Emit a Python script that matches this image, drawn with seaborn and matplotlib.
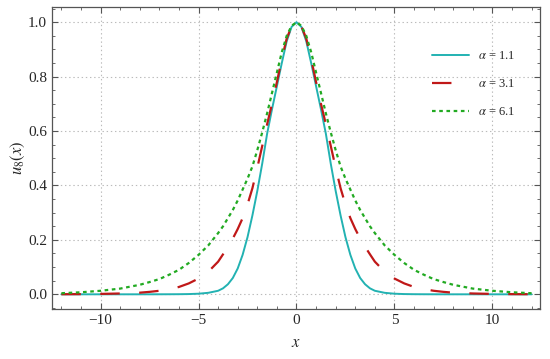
import numpy as np
import pandas as pd
import seaborn as sns
import matplotlib.pyplot as plt
from matplotlib.ticker import MultipleLocator

# values for x >= 0 (curves are symmetric about x = 0)
x_half = [0, 0.25, 0.5, 0.75, 1.0, 1.25, 1.5, 1.75, 2.0, 2.25, 2.5, 2.75, 3.0,
          3.25, 3.5, 3.75, 4.0, 4.5, 5.0, 5.5, 6.0, 6.5, 7.0, 7.5, 8.0,
          9.0, 10.0, 11.0, 12.0]
u_a11 = [1.0, 0.983, 0.93, 0.85, 0.765, 0.68, 0.59, 0.48, 0.38, 0.29, 0.21, 0.145, 0.095,
         0.06, 0.037, 0.022, 0.013, 0.0055, 0.0022, 0.0009, 0.0004, 0.0002, 0.0001, 0.0, 0.0,
         0.0, 0.0, 0.0, 0.0]
u_a31 = [1.0, 0.985, 0.94, 0.865, 0.78, 0.70, 0.625, 0.545, 0.465, 0.39, 0.33, 0.28, 0.24,
         0.205, 0.175, 0.147, 0.12, 0.083, 0.058, 0.04, 0.027, 0.019, 0.013, 0.009, 0.006,
         0.003, 0.0015, 0.0007, 0.0003]
u_a61 = [1.0, 0.987, 0.95, 0.89, 0.815, 0.74, 0.665, 0.595, 0.53, 0.47, 0.425, 0.385, 0.345,
         0.31, 0.28, 0.25, 0.225, 0.18, 0.145, 0.115, 0.09, 0.072, 0.056, 0.045, 0.035,
         0.021, 0.013, 0.0075, 0.004]

labels = [r'$\alpha$ = 1.1', r'$\alpha$ = 3.1', r'$\alpha$ = 6.1']
colors = ['#22b2b2', '#c01818', '#22aa22']
styles = ['-', (0, (14, 14)), (0, (2.6, 2.6))]


def mirror(vals):
    vals = np.asarray(vals, dtype=float)
    return np.concatenate([vals[:0:-1], vals])


sns.set_style('ticks')
plt.rcParams['font.family'] = ['Liberation Serif', 'DejaVu Serif']
plt.rcParams['mathtext.fontset'] = 'stix'
plt.rcParams['lines.scale_dashes'] = False

x_full = np.concatenate([-np.asarray(x_half[:0:-1]), np.asarray(x_half)])

fig, ax = plt.subplots(figsize=(5.5, 3.59), dpi=100)
fig.subplots_adjust(left=52 / 550, right=540 / 550, top=1 - 7 / 359, bottom=1 - 309 / 359)

ax.grid(True, which='major', color='#bbbbbb', linestyle=(0, (1, 2)), linewidth=0.8)
ax.set_axisbelow(True)

for vals, lab, col, ls in zip([u_a11, u_a31, u_a61], labels, colors, styles):
    df = pd.DataFrame({'x': x_full, 'u': mirror(vals)})
    sns.lineplot(data=df, x='x', y='u', ax=ax, color=col, label=lab,
                 linestyle=ls, linewidth=1.4 if ls == '-' else 1.6)

ax.set_xlim(-12.48, 12.43)
ax.set_ylim(-0.054, 1.056)
ax.xaxis.set_major_locator(MultipleLocator(5))
ax.xaxis.set_minor_locator(MultipleLocator(1))
ax.yaxis.set_major_locator(MultipleLocator(0.2))
ax.yaxis.set_minor_locator(MultipleLocator(0.05))
ax.tick_params(which='both', direction='in', top=True, right=True, color='#555555',
               labelsize=11)
ax.tick_params(which='major', length=4, width=0.8)
ax.tick_params(which='minor', length=2.2, width=0.6)
for sp in ax.spines.values():
    sp.set_color('#555555')
    sp.set_linewidth(0.9)

ax.set_xlabel('$x$', fontsize=12, labelpad=6)
ax.set_ylabel('$u_8(x)$', fontsize=12, labelpad=1)

ax.legend(loc='upper left', bbox_to_anchor=(0.755, 0.895), frameon=False,
          fontsize=9, handlelength=3.0, handletextpad=0.7, labelspacing=1.3)

plt.savefig('out.png', dpi=100)
